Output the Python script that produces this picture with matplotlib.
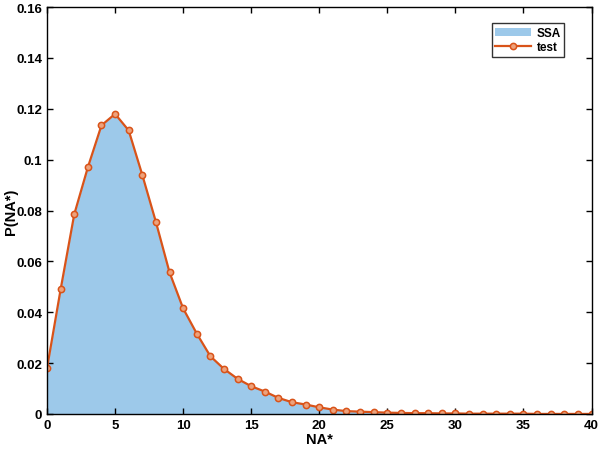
import numpy as np
import matplotlib.pyplot as plt

plt.rcParams['font.family'] = ['Liberation Sans', 'DejaVu Sans']
plt.rcParams['font.weight'] = 'bold'

# distribution of NA*
na = np.arange(0, 41)
p_ssa = [0.018, 0.049, 0.0785, 0.097, 0.1135, 0.118, 0.1115, 0.094, 0.0755, 0.0557,
         0.0415, 0.0316, 0.0227, 0.0177, 0.0138, 0.0109, 0.0088, 0.0063, 0.0046, 0.0037,
         0.0026, 0.0017, 0.0011, 0.0009, 0.0007, 0.0005, 0.0004, 0.0003, 0.0003, 0.0002,
         0.0002, 0.0001, 0.0001, 0.0001, 0.0001, 0.0001, 0.0, 0.0, 0.0, 0.0, 0.0]
p_test = [0.018, 0.049, 0.0785, 0.097, 0.1135, 0.118, 0.1115, 0.094, 0.0755, 0.0557,
          0.0415, 0.0316, 0.0227, 0.0177, 0.0138, 0.0109, 0.0088, 0.0063, 0.0046, 0.0037,
          0.0026, 0.0017, 0.0011, 0.0009, 0.0007, 0.0005, 0.0004, 0.0003, 0.0003, 0.0002,
          0.0002, 0.0001, 0.0001, 0.0001, 0.0001, 0.0001, 0.0, 0.0, 0.0, 0.0, 0.0]

fig = plt.figure(figsize=(5.99, 4.52), dpi=100)
ax = fig.add_axes([0.0785, 0.082, 0.909, 0.9])

ax.fill_between(na, p_ssa, color='#9dc9ea', label='SSA', linewidth=0)
ax.plot(na, p_test, '-o', color='#d95319', lw=1.6, ms=4.5, mew=1.1,
        mfc='#eda27c', mec='#d95319', label='test')

ax.set_xlim(0, 40)
ax.set_ylim(0, 0.16)
ax.set_xticks(np.arange(0, 41, 5))
ax.set_yticks(np.arange(0, 0.161, 0.02))
ax.set_yticklabels(['0', '0.02', '0.04', '0.06', '0.08', '0.1', '0.12', '0.14', '0.16'])
ax.tick_params(direction='in', top=True, right=True, labelsize=9.5, width=1, length=4)
for s in ax.spines.values():
    s.set_linewidth(1)
ax.set_xlabel('NA*', fontsize=10.5, fontweight='bold', labelpad=1)
ax.set_ylabel('P(NA*)', fontsize=10.5, fontweight='bold')
ax.yaxis.set_label_coords(-0.053, 0.5)

leg = ax.legend(loc='upper right', bbox_to_anchor=(0.95, 0.96), fontsize=8.5,
                frameon=True, fancybox=False, edgecolor='black', borderaxespad=0,
                handlelength=3, handletextpad=0.5, borderpad=0.3, labelspacing=0.2)
leg.get_frame().set_linewidth(1)

fig.savefig('out.png', dpi=100)
